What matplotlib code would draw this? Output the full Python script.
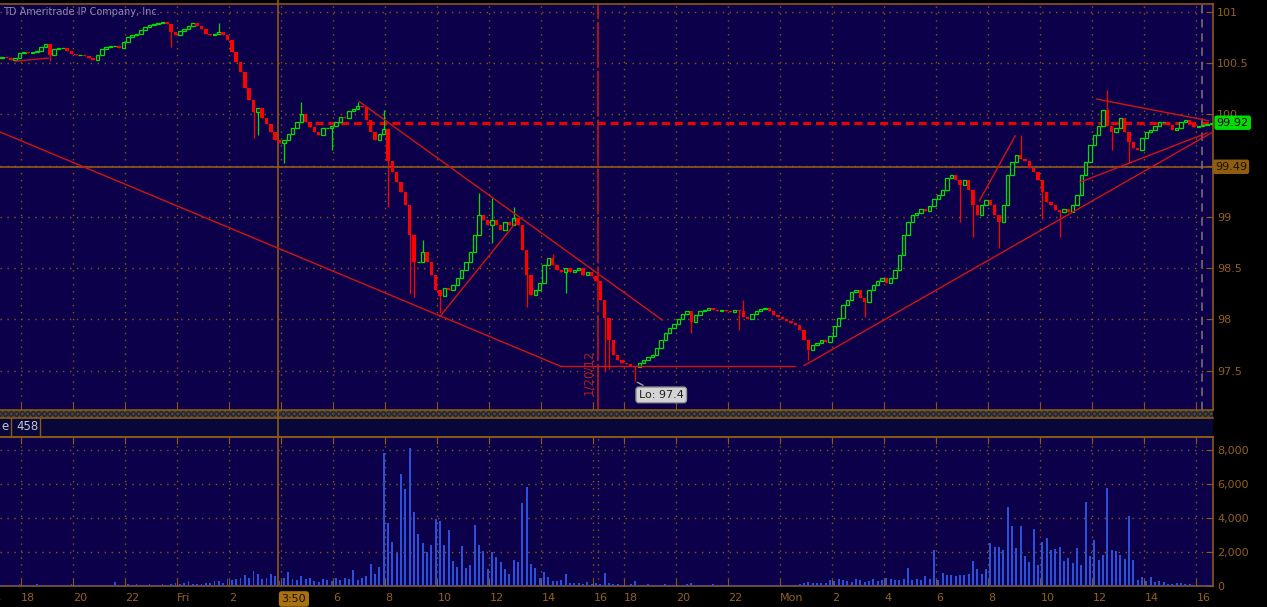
import matplotlib
matplotlib.use('Agg')
import matplotlib.pyplot as plt
import matplotlib.transforms as mtransforms
from matplotlib.patches import Rectangle
from matplotlib.lines import Line2D

# 10-minute bars, x axis in trading hours from the left edge
BAR_HOURS = 1 / 6
FIRST_OPEN = 100.55

CLOSES = [
    100.56, 100.55, 100.53, 100.55, 100.60, 100.61,
    100.60, 100.61, 100.62, 100.66, 100.69, 100.58,
    100.64, 100.65, 100.65, 100.62, 100.59, 100.58,
    100.58, 100.57, 100.55, 100.53, 100.58, 100.64,
    100.66, 100.67, 100.67, 100.65, 100.71, 100.76,
    100.78, 100.79, 100.82, 100.85, 100.87, 100.88,
    100.89, 100.90, 100.88, 100.80, 100.78, 100.81,
    100.83, 100.86, 100.89, 100.86, 100.83, 100.79,
    100.78, 100.79, 100.80, 100.78, 100.73, 100.61,
    100.51, 100.41, 100.26, 100.14, 100.02, 100.06,
    99.97, 99.91, 99.83, 99.75, 99.72, 99.75,
    99.81, 99.87, 99.93, 100.00, 99.93, 99.88,
    99.83, 99.80, 99.87, 99.87, 99.89, 99.93,
    99.98, 99.97, 100.03, 100.05, 100.08, 100.07,
    99.95, 99.83, 99.75, 99.81, 99.86, 99.55,
    99.44, 99.34, 99.24, 99.12, 98.82, 98.56,
    98.56, 98.66, 98.56, 98.43, 98.29, 98.23,
    98.31, 98.29, 98.34, 98.40, 98.48, 98.56,
    98.66, 98.82, 99.02, 98.97, 98.92, 98.97,
    98.92, 98.87, 98.95, 98.92, 98.99, 98.92,
    98.68, 98.43, 98.24, 98.29, 98.36, 98.53,
    98.60, 98.53, 98.48, 98.46, 98.50, 98.46,
    98.48, 98.50, 98.43, 98.46, 98.42, 98.38,
    98.19, 98.01, 97.80, 97.65, 97.60, 97.58,
    97.57, 97.55, 97.54, 97.58, 97.60, 97.63,
    97.65, 97.72, 97.80, 97.87, 97.92, 97.96,
    98.00, 98.05, 98.08, 97.98, 98.04, 98.08,
    98.09, 98.11, 98.09, 98.08, 98.09, 98.08,
    98.07, 98.09, 98.08, 98.02, 98.00, 98.05,
    98.08, 98.10, 98.11, 98.08, 98.04, 98.02,
    98.00, 97.99, 97.97, 97.95, 97.90, 97.80,
    97.70, 97.75, 97.77, 97.80, 97.78, 97.84,
    97.94, 98.01, 98.14, 98.19, 98.27, 98.29,
    98.21, 98.17, 98.29, 98.34, 98.38, 98.40,
    98.36, 98.40, 98.48, 98.63, 98.82, 98.95,
    99.02, 99.04, 99.08, 99.06, 99.11, 99.18,
    99.21, 99.26, 99.38, 99.41, 99.36, 99.31,
    99.36, 99.26, 99.12, 99.02, 99.12, 99.17,
    99.12, 99.02, 98.95, 99.12, 99.41, 99.54,
    99.60, 99.57, 99.55, 99.48, 99.44, 99.36,
    99.24, 99.15, 99.12, 99.07, 99.05, 99.08,
    99.05, 99.12, 99.21, 99.41, 99.54, 99.70,
    99.80, 99.89, 100.04, 99.89, 99.83, 99.87,
    99.97, 99.83, 99.73, 99.67, 99.65, 99.77,
    99.83, 99.85, 99.89, 99.93, 99.93, 99.90,
    99.85, 99.87, 99.93, 99.95, 99.91, 99.88,
    99.89, 99.90, 99.91, 99.92,
]

# (bar index, price) for the longer wicks
WICK_HIGHS = [(50, 100.89), (69, 100.12), (82, 100.12), (88, 100.04), (97, 98.78),
              (110, 99.23), (113, 99.19), (118, 99.10), (127, 98.64), (171, 98.19),
              (235, 99.80), (255, 100.24)]
WICK_LOWS = [(11, 100.52), (39, 100.66), (58, 99.77), (59, 99.80), (65, 99.53),
             (76, 99.65), (89, 99.10), (94, 98.25), (95, 98.22), (101, 98.06),
             (113, 98.75), (121, 98.12), (130, 98.26), (139, 97.50), (140, 97.52),
             (146, 97.40), (159, 97.87), (170, 97.90), (186, 97.60), (199, 98.02),
             (221, 98.95), (224, 98.80), (230, 98.70), (240, 98.98), (244, 98.80),
             (256, 99.65), (260, 99.53)]

VOLUMES = [
    50, 0, 80, 60, 120, 50,
    40, 60, 120, 80, 30, 60,
    50, 40, 80, 60, 90, 40,
    60, 50, 40, 30, 60, 50,
    80, 40, 240, 60, 50, 100,
    60, 90, 50, 80, 120, 60,
    80, 100, 60, 90, 180, 100,
    150, 300, 130, 100, 120, 200,
    150, 300, 300, 180, 400, 350,
    400, 500, 670, 500, 880, 730,
    400, 500, 730, 600, 300, 450,
    820, 400, 350, 600, 430, 470,
    300, 250, 400, 350, 300, 450,
    350, 500, 400, 920, 350, 450,
    600, 1300, 700, 1100, 7800, 3700,
    2600, 1950, 6570, 5680, 8140, 4360,
    3070, 2540, 2000, 2420, 3930, 3830,
    2420, 3280, 1470, 1120, 2360, 1060,
    1220, 3600, 2440, 2040, 1020, 2000,
    1710, 1420, 1000, 730, 1510, 1420,
    4900, 5840, 1320, 1060, 470, 830,
    530, 300, 300, 330, 730, 200,
    150, 200, 120, 240, 100, 150,
    100, 770, 150, 100, 120, 80,
    60, 100, 300, 80, 60, 100,
    60, 80, 50, 100, 60, 80,
    50, 60, 120, 180, 60, 40,
    60, 50, 120, 40, 60, 30,
    40, 60, 30, 50, 40, 60,
    30, 50, 40, 60, 30, 50,
    40, 30, 60, 50, 140, 200,
    240, 200, 180, 150, 200, 330,
    300, 400, 330, 300, 250, 430,
    350, 240, 300, 400, 300, 380,
    470, 400, 350, 380, 420, 1060,
    330, 400, 330, 590, 400, 2100,
    330, 770, 630, 630, 600, 630,
    630, 700, 1450, 980, 730, 1020,
    2540, 2300, 2300, 2100, 4660, 3540,
    2240, 3540, 1770, 1420, 3360, 1220,
    2600, 2830, 2100, 2160, 2300, 1470,
    1670, 1350, 2240, 1260, 4950, 1770,
    2690, 1510, 1810, 5780, 2100, 2040,
    1810, 1570, 4130, 1510, 330, 530,
    300, 530, 240, 300, 240, 140,
    140, 200, 150, 100, 100, 80,
    60, 50, 70, 40,
]

TIME_TICKS = [0.82, 2.82, 4.82, 6.82, 8.82, 10.82, 12.82, 14.82, 16.82, 18.82, 20.82, 22.82,
              24.01, 26.01, 28.01, 30.01, 32.01, 34.01, 36.01, 38.01, 40.01, 42.01, 44.01, 46.01]
# the 4:00 label sits under the cursor time box, as in the reference
TIME_LABELS = ['18', '20', '22', 'Fri', '2', '', '6', '8', '10', '12', '14', '16',
               '18', '20', '22', 'Mon', '2', '4', '6', '8', '10', '12', '14', '16']
PRICE_TICKS = [97.5, 98, 98.5, 99, 99.5, 100, 100.5, 101]
# 99.5 is covered by the cursor price box
PRICE_LABELS = ['97.5', '98', '98.5', '99', '', '100', '100.5', '101']
VOL_TICKS = [0, 2000, 4000, 6000, 8000]
VOL_LABELS = ['0', '2,000', '4,000', '6,000', '8,000']

# drawn trendlines: (start hour, start price), (end hour, end price)
TRENDLINES = [
    ((0.0, 99.83), (21.54, 97.546)),
    ((21.54, 97.546), (30.58, 97.546)),
    ((13.82, 100.125), (25.47, 97.995)),
    ((16.92, 98.03), (19.87, 98.955)),
    ((0.58, 100.52), (1.86, 100.55)),
    ((30.92, 97.55), (46.65, 99.83)),
    ((41.54, 99.34), (46.42, 99.82)),
    ((42.18, 100.15), (46.47, 99.94)),
    ((37.67, 99.16), (39.04, 99.79)),
]

LAST_PRICE = 99.92
CURSOR_PRICE = 99.49
CURSOR_TIME = 10.71
SESSION_BREAK = 23.0
LOW_BAR = 146
LOW_PRICE = 97.40

NAVY = '#0b0049'
ORANGE = '#8a5a14'
LABEL = '#94601e'
GREEN = '#00e000'
RED = '#ff0000'
LINE_RED = '#d21414'
BLUE = '#2c50d8'

W, H = 1267, 607


def main():
    fig = plt.figure(figsize=(W / 100, H / 100), dpi=100, facecolor='black')
    ax = fig.add_axes([0, 197 / H, 1213 / W, 406 / H], facecolor=NAVY)
    axv = fig.add_axes([0, 21 / H, 1213 / W, 149 / H], facecolor=NAVY)

    # Candles
    n = len(CLOSES)
    xs = [(i + 0.5) * BAR_HOURS for i in range(n)]
    opens = [FIRST_OPEN] + CLOSES[:-1]
    highs = [max(o, c) for o, c in zip(opens, CLOSES)]
    lows = [min(o, c) for o, c in zip(opens, CLOSES)]
    for i, p in WICK_HIGHS:
        highs[i] = p
    for i, p in WICK_LOWS:
        lows[i] = p

    up = [i for i in range(n) if CLOSES[i] >= opens[i]]
    dn = [i for i in range(n) if CLOSES[i] < opens[i]]
    width = 0.13
    ax.vlines([xs[i] for i in up], [lows[i] for i in up], [highs[i] for i in up],
              color=GREEN, lw=0.9, zorder=3)
    ax.bar([xs[i] for i in up], [CLOSES[i] - opens[i] for i in up],
           bottom=[opens[i] for i in up], width=width, facecolor=NAVY,
           edgecolor=GREEN, lw=0.9, zorder=3)
    ax.vlines([xs[i] for i in dn], [lows[i] for i in dn], [highs[i] for i in dn],
              color=RED, lw=0.9, zorder=3)
    ax.bar([xs[i] for i in dn], [CLOSES[i] - opens[i] for i in dn],
           bottom=[opens[i] for i in dn], width=width, color=RED, lw=0, zorder=3)

    # Trendlines
    for (x0, y0), (x1, y1) in TRENDLINES:
        ax.plot([x0, x1], [y0, y1], color=LINE_RED, lw=1.0, zorder=4)

    # Reference lines
    ax.hlines(LAST_PRICE, 12.1, 46.65, color='#ee0000', lw=2.2,
              linestyles=(0, (2.6, 1.6)), zorder=2)
    ax.axhline(CURSOR_PRICE, color='#9a6212', lw=1.1, zorder=2)
    ax.axvline(CURSOR_TIME, ymin=-0.0665, ymax=1.01, clip_on=False,
               color='#9a6212', lw=1.1, zorder=2)
    axv.axvline(CURSOR_TIME, color='#9a6212', lw=1.1, zorder=2)
    ax.axvline(SESSION_BREAK, color='#d01818', lw=1.1, linestyle=(0, (30, 2)), zorder=2)
    axv.axvline(SESSION_BREAK, color=ORANGE, lw=1, linestyle=(0, (1, 4)))
    ax.axvline(46.23, color='#707070', lw=1.2, linestyle=(0, (5, 3.5)), zorder=2)

    # Volume
    axv.bar(xs, VOLUMES, width=0.075, color=BLUE, lw=0, zorder=3)

    # Axes styling
    for a in (ax, axv):
        a.set_xlim(0, 46.65)
        a.set_xticks(TIME_TICKS)
        a.spines['left'].set_visible(False)
        for s in ('top', 'bottom', 'right'):
            a.spines[s].set_color(ORANGE)
            a.spines[s].set_linewidth(1.2)
        a.yaxis.tick_right()
        a.tick_params(axis='both', direction='in', length=5, color=ORANGE,
                      labelcolor=LABEL, labelsize=8)
        a.tick_params(axis='y', pad=3)
        a.grid(True, color=ORANGE, linestyle=(0, (1, 4)), lw=1)
        a.set_axisbelow(True)

    ax.set_ylim(97.117, 101.078)
    ax.set_yticks(PRICE_TICKS)
    ax.set_yticklabels(PRICE_LABELS)
    ax.tick_params(axis='x', labelbottom=False)

    axv.set_ylim(0, 8765)
    axv.set_yticks(VOL_TICKS)
    axv.set_yticklabels(VOL_LABELS)
    axv.tick_params(axis='x', top=True, pad=5)
    axv.set_xticklabels(TIME_LABELS, ha='left')

    # Price labels on the right
    tr = mtransforms.blended_transform_factory(ax.transAxes, ax.transData)
    ax.text(1.003, LAST_PRICE, '99.92', transform=tr, ha='left', va='center',
            fontsize=8, color='black', clip_on=False, zorder=6,
            bbox=dict(boxstyle='round,pad=0.2', fc='#00dd00', ec='none'))
    ax.text(1.0015, CURSOR_PRICE, '99.49', transform=tr, ha='left', va='center',
            fontsize=8, color='#1c1000', clip_on=False, zorder=6,
            bbox=dict(boxstyle='round,pad=0.2', fc='#8f5d10', ec='none'))

    # Low marker
    ax.annotate('Lo: 97.4', xy=((LOW_BAR + 0.5) * BAR_HOURS, LOW_PRICE),
                xytext=(19, -10), textcoords='offset points', ha='center', va='center',
                fontsize=8, color='#202020', zorder=6,
                bbox=dict(boxstyle='round,pad=0.25', fc='#d4d4d4', ec='#9a9a9a'),
                arrowprops=dict(arrowstyle='-', color='#a0a0a0', lw=1))

    # Session date label
    ax.text(SESSION_BREAK - 0.1, 97.48, '1/20/12', rotation=90, ha='right', va='center',
            fontsize=8.5, color='#b81a1a', zorder=5)

    # Cursor time label
    trv = mtransforms.blended_transform_factory(axv.transData, axv.transAxes)
    axv.text(CURSOR_TIME + 0.12, -0.087, '3:50', transform=trv, ha='left', va='center',
             fontsize=8, color='#1a0f00', clip_on=False, zorder=6,
             bbox=dict(boxstyle='round,pad=0.25', fc='#a8700f', ec='none'))
    axv.text(-0.45, -0.087, '16', transform=trv, ha='left', va='center',
             fontsize=8, color=LABEL, clip_on=False)

    # Title
    fig.text(3 / W, 1 - 12 / H, 'TD Ameritrade IP Company, Inc.', color='#8a8ab0',
             fontsize=7, va='center', ha='left')

    # Band and study header between the panels
    fig.add_artist(Rectangle((0, 1 - 418 / H), 1213 / W, 8 / H, transform=fig.transFigure,
                             facecolor='#4a4a4a', edgecolor='#262626', hatch='xxxxxx',
                             lw=0, zorder=-1))
    fig.add_artist(Rectangle((0, 1 - 437 / H), 1213 / W, 19 / H, transform=fig.transFigure,
                             facecolor='#07073a', edgecolor='none', zorder=-1))
    for py in (418, 437):
        fig.add_artist(Line2D([0, 1213 / W], [1 - py / H] * 2, transform=fig.transFigure,
                              color=ORANGE, lw=1.2))
    for px in (11, 40):
        fig.add_artist(Line2D([px / W] * 2, [1 - 437 / H, 1 - 418 / H],
                              transform=fig.transFigure, color=ORANGE, lw=1))
    fig.text(1 / W, 1 - 427 / H, 'e', color='#c8c8d8', fontsize=8.5, va='center')
    fig.text(16 / W, 1 - 427 / H, '458', color='#c8c8d8', fontsize=8.5, va='center')

    fig.savefig('out.png', dpi=100, facecolor='black')


if __name__ == '__main__':
    main()
